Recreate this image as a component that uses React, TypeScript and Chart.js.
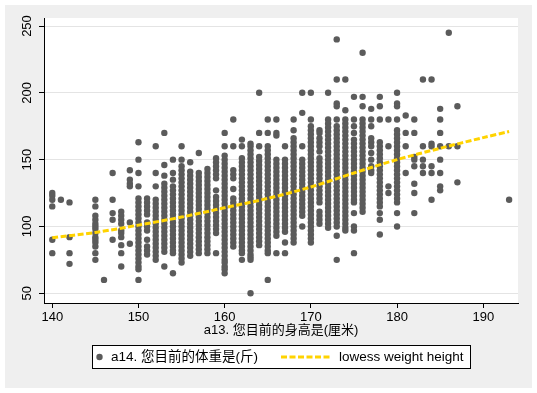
import React, { useEffect, useRef } from 'react';
import { Chart, registerables } from 'chart.js';

Chart.register(...registerables);

const FONT = '"Liberation Sans", Arial, "Noto Sans CJK SC", sans-serif';

const xTitle = 'a13. 您目前的身高是(厘米)';
const scatterLabel = 'a14. 您目前的体重是(斤)';
const lowessLabel = 'lowess weight height';

const xTicks = [140, 150, 160, 170, 180, 190];
const yTicks = [50, 100, 150, 200, 250];

const heights = [
  140, 141, 142, 145, 146, 147, 148, 149, 150, 151, 152, 153, 154, 155, 156, 157, 158, 159,
  160, 161, 162, 163, 164, 165, 166, 167, 168, 169, 170, 171, 172, 173, 174, 175, 176, 177,
  178, 179, 180, 181, 182, 183, 184, 185, 186, 187, 193,
];

const weightsByHeight: number[][] = [
  [125, 123, 120, 115, 90, 80],
  [120],
  [118, 92, 80, 72],
  [120, 115, 108, 105, 102, 100, 98, 95, 92, 90, 88, 85, 80, 75],
  [60],
  [140, 120, 110, 105, 90],
  [111, 108, 105, 102, 97, 95, 92, 86, 80, 70],
  [142, 135, 132, 130, 103, 87],
  [163, 150, 140, 130, 121, 118, 115, 112, 109, 106, 103, 100, 97, 94, 91, 88, 85, 82, 79, 76, 73, 70, 68, 60],
  [121, 118, 115, 112, 109, 103, 100, 97, 90, 85, 82, 79],
  [160, 140, 130, 120, 117, 114, 111, 108, 105, 102, 99, 96, 93, 90, 87, 84, 81, 78, 75],
  [170, 146, 138, 132, 129, 126, 123, 120, 117, 114, 111, 108, 105, 102, 99, 96, 93, 90, 87, 84, 81, 70],
  [150, 140, 135, 130, 127, 124, 121, 118, 115, 112, 109, 106, 103, 100, 97, 94, 91, 88, 85, 82, 80, 65],
  [160, 150, 145, 142, 139, 136, 133, 130, 127, 124, 121, 118, 115, 112, 109, 106, 103, 100, 97, 94, 91, 88, 85, 82, 79, 76, 73],
  [148, 141, 138, 135, 132, 129, 126, 123, 120, 117, 114, 111, 108, 105, 102, 99, 96, 93, 90, 87, 84, 81, 78],
  [155, 140, 137, 134, 131, 128, 125, 122, 119, 116, 113, 110, 107, 104, 101, 98, 95, 92, 89, 86, 83, 80],
  [143, 140, 137, 134, 131, 128, 125, 122, 119, 116, 113, 110, 107, 104, 101, 98, 95, 92, 89, 86, 83, 80],
  [151, 148, 145, 142, 139, 136, 127, 122, 119, 116, 113, 110, 107, 104, 101, 98, 95, 80],
  [170, 160, 153, 150, 147, 144, 141, 138, 135, 132, 129, 126, 123, 120, 117, 114, 111, 108, 105, 102, 99, 96, 93, 90, 87, 84, 81, 78, 75, 73, 70, 68, 65],
  [180, 160, 142, 139, 136, 128, 121, 118, 115, 112, 109, 106, 103, 100, 97, 94, 91, 88, 85],
  [165, 160, 151, 148, 145, 142, 139, 136, 133, 130, 127, 124, 121, 118, 115, 112, 109, 106, 103, 100, 97, 94, 91, 88, 85, 82, 80, 75],
  [162, 160, 157, 154, 151, 148, 145, 142, 139, 136, 133, 130, 127, 124, 121, 118, 115, 112, 109, 106, 103, 100, 97, 94, 91, 88, 85, 82, 79, 77, 75, 50],
  [200, 170, 160, 152, 149, 146, 143, 140, 137, 134, 131, 128, 125, 122, 119, 116, 113, 110, 107, 104, 101, 98, 95, 92, 89, 86],
  [180, 170, 160, 157, 154, 151, 148, 145, 142, 139, 136, 133, 130, 127, 124, 121, 118, 115, 112, 109, 106, 103, 100, 97, 94, 91, 88, 85, 82, 80, 60],
  [180, 170, 168, 150, 147, 144, 141, 138, 135, 132, 129, 126, 123, 120, 117, 114, 111, 108, 105, 102, 99, 96, 93, 80],
  [160, 150, 147, 144, 141, 138, 135, 132, 129, 126, 123, 120, 117, 114, 111, 108, 105, 102, 99, 96, 88, 80],
  [180, 172, 166, 163, 160, 157, 154, 151, 148, 145, 142, 139, 136, 133, 130, 127, 124, 121, 118, 115, 112, 109, 106, 103, 100, 97, 94, 91, 88],
  [200, 185, 160, 150, 147, 144, 141, 138, 135, 132, 129, 126, 123, 120, 117, 114, 111, 108, 100],
  [200, 180, 175, 172, 169, 166, 163, 160, 157, 154, 151, 148, 145, 142, 139, 136, 133, 130, 127, 124, 121, 118, 115, 112, 109, 106, 103, 100, 97, 94, 91, 88],
  [172, 170, 166, 163, 160, 156, 151, 148, 145, 142, 139, 136, 133, 130, 127, 124, 121, 118, 111, 108, 105, 102],
  [200, 180, 177, 174, 171, 168, 165, 162, 159, 156, 153, 150, 147, 144, 141, 138, 135, 132, 129, 126, 123, 120, 117, 114, 111, 108, 105, 102, 99],
  [240, 210, 192, 190, 180, 175, 172, 169, 166, 163, 160, 157, 154, 151, 148, 145, 142, 139, 136, 133, 130, 127, 124, 121, 118, 115, 112, 109, 106, 103, 100, 93, 75],
  [210, 187, 180, 177, 174, 171, 168, 165, 162, 159, 156, 153, 150, 147, 144, 141, 138, 135, 132, 129, 126, 123, 120, 117, 114, 111, 108, 105, 102, 99, 97],
  [197, 180, 175, 170, 165, 162, 159, 156, 153, 150, 147, 144, 141, 138, 135, 132, 129, 126, 123, 120, 118, 110, 100, 97, 80],
  [230, 197, 190, 180, 177, 174, 171, 168, 165, 162, 159, 156, 153, 150, 147, 144, 141, 138, 135, 132, 129, 126, 123, 120, 117, 114, 111],
  [188, 180, 175, 166, 163, 160, 155, 150, 145, 142, 140],
  [197, 190, 180, 163, 160, 157, 154, 151, 148, 145, 142, 139, 136, 133, 130, 127, 124, 121, 118, 115, 110, 105, 94],
  [180, 160, 130, 125],
  [200, 192, 190, 180, 172, 169, 166, 163, 160, 157, 154, 151, 148, 145, 142, 139, 136, 133, 130, 127, 124, 121, 118, 110, 100],
  [183, 170, 160, 140],
  [180, 170, 152, 150, 145, 132, 125, 110],
  [210, 160, 150, 145, 140],
  [210, 162, 160, 145, 140, 120],
  [188, 180, 170, 160, 150, 140, 130, 127],
  [245, 160],
  [190, 160, 133],
  [120],
];

const lowessHeights = [140, 145, 150, 155, 160, 165, 170, 175, 180, 185, 190, 193];
const lowessWeights = [91.5, 95.5, 101, 107, 114, 121, 129.5, 140, 150, 158.5, 166.5, 171];

const MARKER_COLOR = '#5b5b5b';
const LOWESS_COLOR = '#FFD300';

const stataPlugin = {
  id: 'stataLook',
  beforeDraw(chart: any) {
    const { ctx, chartArea } = chart;
    ctx.save();
    ctx.fillStyle = '#ffffff';
    ctx.fillRect(0, 0, chart.width, chart.height);
    ctx.fillStyle = '#efefef';
    ctx.fillRect(5, 5, 527, 383);
    ctx.fillStyle = '#ffffff';
    ctx.fillRect(chartArea.left, chartArea.top, chartArea.right - chartArea.left, chartArea.bottom - chartArea.top);
    ctx.restore();
  },
  afterDraw(chart: any) {
    const { ctx } = chart;
    const ys = chart.scales.y;
    ctx.save();
    ctx.font = `13px ${FONT}`;
    ctx.fillStyle = '#000';
    ctx.textAlign = 'center';
    ctx.textBaseline = 'middle';
    for (const v of yTicks) {
      const py = ys.getPixelForValue(v);
      ctx.save();
      ctx.translate(27, py);
      ctx.rotate(-Math.PI / 2);
      ctx.fillText(String(v), 0, 0);
      ctx.restore();
    }
    // legend box
    const bx = 92.5, by = 345.5, bw = 378, bh = 23;
    ctx.fillStyle = '#ffffff';
    ctx.fillRect(bx, by, bw, bh);
    ctx.strokeStyle = '#000';
    ctx.lineWidth = 1;
    ctx.strokeRect(bx, by, bw, bh);
    const cy = by + bh / 2;
    ctx.fillStyle = MARKER_COLOR;
    ctx.beginPath();
    ctx.arc(99.5, cy, 3.2, 0, Math.PI * 2);
    ctx.fill();
    ctx.fillStyle = '#000';
    ctx.textAlign = 'left';
    ctx.font = `13.5px ${FONT}`;
    ctx.fillText(scatterLabel, 111, cy + 0.5);
    ctx.strokeStyle = LOWESS_COLOR;
    ctx.lineWidth = 3;
    ctx.setLineDash([6, 2.5]);
    ctx.beginPath();
    ctx.moveTo(281, cy);
    ctx.lineTo(332, cy);
    ctx.stroke();
    ctx.setLineDash([]);
    ctx.fillText(lowessLabel, 339, cy + 0.5);
    ctx.restore();
  },
};

export default function App() {
  const canvasRef = useRef<HTMLCanvasElement | null>(null);

  useEffect(() => {
    const canvas = canvasRef.current;
    if (!canvas) return;
    const scatterData = heights.flatMap((h, i) => weightsByHeight[i].map((w) => ({ x: h, y: w })));
    const lowessData = lowessHeights.map((h, i) => ({ x: h, y: lowessWeights[i] }));

    const chart = new Chart(canvas, {
      type: 'scatter',
      data: {
        datasets: [
          {
            type: 'line',
            label: lowessLabel,
            data: lowessData,
            borderColor: LOWESS_COLOR,
            borderWidth: 3,
            borderDash: [6, 2.5],
            pointRadius: 0,
            showLine: true,
            fill: false,
            tension: 0.3,
            order: 0,
          } as any,
          {
            label: scatterLabel,
            data: scatterData,
            backgroundColor: MARKER_COLOR,
            borderWidth: 0,
            pointRadius: 3.2,
            pointHoverRadius: 3.2,
            order: 1,
          },
        ],
      },
      options: {
        responsive: false,
        animation: false,
        devicePixelRatio: 1,
        layout: { padding: { left: 0, top: 18, right: 19, bottom: 50 } },
        plugins: {
          legend: { display: false },
          tooltip: { enabled: false },
        },
        scales: {
          x: {
            type: 'linear',
            min: 139.04,
            max: 194.03,
            afterFit: (s: any) => {
              s.height = 40;
            },
            afterBuildTicks: (s: any) => {
              s.ticks = xTicks.map((v) => ({ value: v }));
            },
            grid: {
              drawOnChartArea: false,
              drawTicks: true,
              tickLength: 5,
              tickColor: '#000',
              color: '#000',
            },
            border: { display: true, color: '#000', width: 1 },
            ticks: {
              padding: 2,
              color: '#000',
              font: { size: 13, family: FONT },
              maxRotation: 0,
              autoSkip: false,
            },
            title: {
              display: true,
              text: xTitle,
              color: '#000',
              font: { size: 13, family: FONT },
              padding: { top: 0, bottom: 5 },
            },
          },
          y: {
            type: 'linear',
            min: 42.7,
            max: 256,
            afterFit: (s: any) => {
              s.width = 44;
            },
            afterBuildTicks: (s: any) => {
              s.ticks = yTicks.map((v) => ({ value: v }));
            },
            grid: {
              drawOnChartArea: true,
              color: '#e4e4e4',
              lineWidth: 1,
              drawTicks: true,
              tickLength: 5,
              tickColor: '#000',
            },
            border: { display: true, color: '#000', width: 1 },
            ticks: { display: false },
          },
        },
      },
      plugins: [stataPlugin],
    });
    return () => chart.destroy();
  }, []);

  return (
    <div style={{ position: 'fixed', left: 0, top: 0, width: 537, height: 393, background: '#fff' }}>
      <canvas ref={canvasRef} width={537} height={393} style={{ display: 'block', width: 537, height: 393 }} />
    </div>
  );
}
